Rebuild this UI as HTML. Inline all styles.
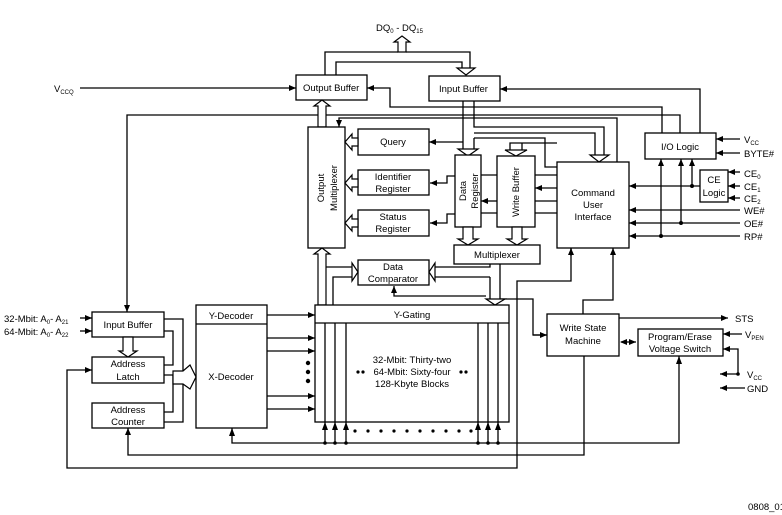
<!DOCTYPE html>
<html><head><meta charset="utf-8"><style>
html,body{margin:0;padding:0;background:#fff}
svg{display:block}
text{font-family:"Liberation Sans",sans-serif;font-size:9.5px;fill:#000}
.b{fill:#fff;stroke:#000;stroke-width:1.3}
.l{fill:none;stroke:#000;stroke-width:1.3}
.h{fill:#fff;stroke:#000;stroke-width:1.2}
</style></head><body>
<svg width="782" height="515" viewBox="0 0 782 515" xmlns="http://www.w3.org/2000/svg">
<defs>
<marker id="a" markerWidth="8" markerHeight="8" refX="7" refY="4" orient="auto" markerUnits="userSpaceOnUse"><path d="M0,1 L7,4 L0,7 z" fill="#000"/></marker>
<marker id="as" markerWidth="8" markerHeight="8" refX="1" refY="4" orient="auto" markerUnits="userSpaceOnUse"><path d="M7,1 L0,4 L7,7 z" fill="#000"/></marker>
</defs>

<text x="376" y="31">DQ<tspan font-size="6" dy="2">0</tspan><tspan dy="-2"> - DQ</tspan><tspan font-size="6" dy="2">15</tspan></text>
<path class="l" d="M325,75 V52 H398 M406,52 H470 V68"/>
<path class="l" d="M336,75 V62 H462 V68"/>
<polygon class="h" points="398,52 398,42 394,42 402,36 410,42 406,42 406,52"/>
<polygon class="h" points="462,68 457,68 466,75 475,68 470,68"/>

<text x="54" y="92">V<tspan font-size="6" dy="2">CCQ</tspan></text>
<line class="l" x1="80" y1="88" x2="296" y2="88" marker-end="url(#a)"/>

<rect class="b" x="296" y="75" width="71" height="25"/><text x="303" y="91">Output Buffer</text>
<rect class="b" x="429" y="76" width="71" height="25"/><text x="439" y="92">Input Buffer</text>

<path class="l" d="M700,133 V89 H500" marker-end="url(#a)"/>
<path class="l" d="M662,133 V107 H390 V88 H367" marker-end="url(#a)"/>
<path class="l" d="M680,133 V115 H127 V312" marker-end="url(#a)"/>
<path class="l" d="M617,162 V118 H339 V127" marker-end="url(#a)"/>

<polygon class="h" points="318,127 318,106 314,106 322,100 330,106 326,106 326,127"/>

<rect class="b" x="308" y="127" width="37" height="121"/>
<text transform="translate(324,188) rotate(-90)" text-anchor="middle">Output</text>
<text transform="translate(337,188) rotate(-90)" text-anchor="middle">Multiplexer</text>

<rect class="b" x="358" y="129" width="71" height="26"/><text x="393" y="145" text-anchor="middle">Query</text>
<rect class="b" x="358" y="170" width="71" height="25"/><text x="393" y="180" text-anchor="middle">Identifier</text><text x="393" y="192" text-anchor="middle">Register</text>
<rect class="b" x="358" y="210" width="71" height="26"/><text x="393" y="220" text-anchor="middle">Status</text><text x="393" y="232" text-anchor="middle">Register</text>
<polygon class="h" points="358,138 352,138 352,134 345,142 352,150 352,146 358,146"/>
<polygon class="h" points="358,179 352,179 352,175 345,183 352,191 352,187 358,187"/>
<polygon class="h" points="358,219 352,219 352,215 345,223 352,231 352,227 358,227"/>

<path class="l" d="M463,101 V149 M474,101 V127 H604 V155 M474,133 H595 V155 M474,138 V149"/>
<polygon class="h" points="463,149 458,149 468,156 478,149 474,149"/>
<polygon class="h" points="595,155 590,155 599,162 609,155 604,155"/>
<path class="l" d="M474,138 H545 V167 H557 M510,150 V143 H522 V150 M522,143 H557"/>
<polygon class="h" points="510,150 505,150 516,156 527,150 522,150"/>
<line class="l" x1="463" y1="142" x2="429" y2="142" marker-end="url(#a)"/>

<rect class="b" x="455" y="155" width="26" height="72"/>
<text transform="translate(466,191) rotate(-90)" text-anchor="middle">Data</text>
<text transform="translate(478,191) rotate(-90)" text-anchor="middle">Register</text>
<rect class="b" x="497" y="156" width="38" height="71"/>
<text transform="translate(519,192) rotate(-90)" text-anchor="middle">Write Buffer</text>
<path class="l" d="M455,176 H447 V183 H430" marker-end="url(#a)"/>
<path class="l" d="M455,214 H447 V223 H430" marker-end="url(#a)"/>
<path class="l" d="M481,175 H497 M481,213 H497"/>
<line class="l" x1="497" y1="201" x2="481" y2="201" marker-end="url(#a)"/>
<path class="l" d="M535,175 H557 M535,201 H557 M535,213 H557"/>
<line class="l" x1="557" y1="188" x2="535" y2="188" marker-end="url(#a)"/>

<polygon class="h" points="463,227 463,239 458,239 468,245 478,239 473,239 473,227"/>
<polygon class="h" points="512,227 512,239 507,239 517,245 527,239 522,239 522,227"/>
<rect class="b" x="454" y="245" width="86" height="19"/><text x="497" y="258" text-anchor="middle">Multiplexer</text>

<rect class="b" x="557" y="162" width="72" height="86"/>
<text x="593" y="196" text-anchor="middle">Command</text><text x="593" y="208" text-anchor="middle">User</text><text x="593" y="220" text-anchor="middle">Interface</text>

<rect class="b" x="645" y="133" width="71" height="26"/><text x="680" y="150" text-anchor="middle">I/O Logic</text>
<rect class="b" x="700" y="170" width="28" height="32"/><text x="714" y="183" text-anchor="middle">CE</text><text x="714" y="196" text-anchor="middle">Logic</text>
<line class="l" x1="740" y1="139" x2="716" y2="139" marker-end="url(#a)"/>
<line class="l" x1="740" y1="153" x2="716" y2="153" marker-end="url(#a)"/>
<text x="744" y="143">V<tspan font-size="6" dy="2">CC</tspan></text>
<text x="744" y="157">BYTE#</text>
<line class="l" x1="740" y1="172" x2="728" y2="172" marker-end="url(#a)"/>
<line class="l" x1="740" y1="186" x2="728" y2="186" marker-end="url(#a)"/>
<line class="l" x1="740" y1="198" x2="728" y2="198" marker-end="url(#a)"/>
<text x="744" y="177">CE<tspan font-size="6" dy="2">0</tspan></text>
<text x="744" y="190">CE<tspan font-size="6" dy="2">1</tspan></text>
<text x="744" y="202">CE<tspan font-size="6" dy="2">2</tspan></text>
<line class="l" x1="700" y1="186" x2="629" y2="186" marker-end="url(#a)"/>
<line class="l" x1="740" y1="210" x2="629" y2="210" marker-end="url(#a)"/>
<line class="l" x1="740" y1="223" x2="629" y2="223" marker-end="url(#a)"/>
<line class="l" x1="740" y1="236" x2="629" y2="236" marker-end="url(#a)"/>
<text x="744" y="214">WE#</text><text x="744" y="227">OE#</text><text x="744" y="240">RP#</text>
<line class="l" x1="661" y1="236" x2="661" y2="159" marker-end="url(#a)"/>
<line class="l" x1="681" y1="223" x2="681" y2="159" marker-end="url(#a)"/>
<line class="l" x1="692" y1="186" x2="692" y2="159" marker-end="url(#a)"/>
<circle cx="661" cy="236" r="2"/><circle cx="681" cy="223" r="2"/><circle cx="692" cy="186" r="2"/>

<rect class="b" x="358" y="260" width="71" height="25"/><text x="393" y="270" text-anchor="middle">Data</text><text x="393" y="282" text-anchor="middle">Comparator</text>
<polygon class="h" points="318,305 318,254 314,254 322,248 330,254 326,254 326,305"/>
<path class="l" d="M326,267 H352 M333,305 V277 H352"/>
<polygon class="h" points="352,263 358,272 352,281"/>
<path class="l" d="M490,264 V267 H435 M490,277 H435"/>
<polygon class="h" points="435,263 429,272 435,281"/>
<path class="l" d="M490,277 V299 M500,264 V299 H533 V335 H547" />
<polygon class="h" points="486,299 495,305 505,299"/>
<path class="l" d="M486,296 H394 V286" marker-end="url(#a)"/>

<rect class="b" x="315" y="305" width="194" height="117"/>
<line class="l" x1="315" y1="323" x2="509" y2="323"/>
<text x="412" y="318" text-anchor="middle">Y-Gating</text>
<text x="412" y="363" text-anchor="middle">32-Mbit: Thirty-two</text>
<text x="412" y="375" text-anchor="middle">64-Mbit: Sixty-four</text>
<text x="412" y="387" text-anchor="middle">128-Kbyte Blocks</text>
<circle cx="358" cy="372" r="1.6"/><circle cx="363" cy="372" r="1.6"/>
<circle cx="461" cy="372" r="1.6"/><circle cx="466" cy="372" r="1.6"/>
<path class="l" d="M325,323 V443 M335,323 V443 M346,323 V443 M478,323 V443 M488,323 V443 M498,323 V443"/>
<path class="l" d="M232,428 V443 H679 V356"/>
<g fill="#000">
<path d="M322,430 L325,422 L328,430z M332,430 L335,422 L338,430z M343,430 L346,422 L349,430z M475,430 L478,422 L481,430z M485,430 L488,422 L491,430z M495,430 L498,422 L501,430z M229,436 L232,428 L235,436z M676,364 L679,356 L682,364z"/>
<circle cx="325" cy="443" r="1.8"/><circle cx="335" cy="443" r="1.8"/><circle cx="346" cy="443" r="1.8"/>
<circle cx="478" cy="443" r="1.8"/><circle cx="488" cy="443" r="1.8"/><circle cx="498" cy="443" r="1.8"/>
<circle cx="355" cy="431" r="1.6"/><circle cx="368" cy="431" r="1.6"/><circle cx="381" cy="431" r="1.6"/><circle cx="394" cy="431" r="1.6"/><circle cx="407" cy="431" r="1.6"/><circle cx="420" cy="431" r="1.6"/><circle cx="433" cy="431" r="1.6"/><circle cx="446" cy="431" r="1.6"/><circle cx="459" cy="431" r="1.6"/><circle cx="471" cy="431" r="1.6"/>
<circle cx="308" cy="363" r="2.2"/><circle cx="308" cy="372" r="2.2"/><circle cx="308" cy="381" r="2.2"/>
</g>

<rect class="b" x="196" y="305" width="71" height="123"/>
<line class="l" x1="196" y1="324" x2="267" y2="324"/>
<text x="231" y="319" text-anchor="middle">Y-Decoder</text>
<text x="231" y="380" text-anchor="middle">X-Decoder</text>
<line class="l" x1="267" y1="315" x2="315" y2="315" marker-end="url(#a)"/>
<line class="l" x1="267" y1="338" x2="315" y2="338" marker-end="url(#a)"/>
<line class="l" x1="267" y1="351" x2="315" y2="351" marker-end="url(#a)"/>
<line class="l" x1="267" y1="396" x2="315" y2="396" marker-end="url(#a)"/>
<line class="l" x1="267" y1="409" x2="315" y2="409" marker-end="url(#a)"/>

<text x="4" y="322">32-Mbit:  A<tspan font-size="6" dy="2">0</tspan><tspan dy="-2">- A</tspan><tspan font-size="6" dy="2">21</tspan></text>
<text x="4" y="335">64-Mbit:  A<tspan font-size="6" dy="2">0</tspan><tspan dy="-2">- A</tspan><tspan font-size="6" dy="2">22</tspan></text>
<line class="l" x1="80" y1="318" x2="92" y2="318" marker-end="url(#a)"/>
<line class="l" x1="80" y1="331" x2="92" y2="331" marker-end="url(#a)"/>
<rect class="b" x="92" y="312" width="72" height="25"/><text x="128" y="328" text-anchor="middle">Input Buffer</text>
<polygon class="h" points="123,337 123,351 119,351 128,357 137,351 133,351 133,337"/>
<rect class="b" x="92" y="357" width="72" height="26"/><text x="128" y="367" text-anchor="middle">Address</text><text x="128" y="380" text-anchor="middle">Latch</text>
<rect class="b" x="92" y="403" width="72" height="25"/><text x="128" y="413" text-anchor="middle">Address</text><text x="128" y="425" text-anchor="middle">Counter</text>
<path class="l" d="M164,319 H183 V371 M183,384 V422 H164 M164,331 H173 V365 H164 M164,375 H173 V412 H164"/>
<polygon class="h" points="173,371 183,371 190,365 196,377 190,389 183,384 173,384"/>
<path class="l" d="M584,356 V455 H128 V428" marker-end="url(#a)"/>
<path class="l" d="M571,248 V281 H517 V468 H67 V370 H92" marker-end="url(#a)"/>
<path class="l" d="M571,256 V248" marker-end="url(#a)"/>

<rect class="b" x="547" y="314" width="72" height="42"/><text x="583" y="331" text-anchor="middle">Write State</text><text x="583" y="344" text-anchor="middle">Machine</text>
<path class="l" d="M583,314 V300 H613 V248" marker-end="url(#a)"/>
<line class="l" x1="533" y1="335" x2="547" y2="335" marker-end="url(#a)"/>
<line class="l" x1="619" y1="318" x2="728" y2="318" marker-end="url(#a)"/>
<text x="735" y="322">STS</text>
<line class="l" x1="621" y1="342" x2="636" y2="342" marker-end="url(#a)" marker-start="url(#as)"/>
<rect class="b" x="638" y="329" width="85" height="27"/><text x="680" y="340" text-anchor="middle">Program/Erase</text><text x="680" y="352" text-anchor="middle">Voltage Switch</text>
<line class="l" x1="742" y1="334" x2="723" y2="334" marker-end="url(#a)"/>
<text x="745" y="338">V<tspan font-size="6" dy="2">PEN</tspan></text>
<path class="l" d="M738,374 V349 H723" marker-end="url(#a)"/>
<line class="l" x1="738" y1="374" x2="720" y2="374" marker-end="url(#a)"/>
<circle cx="738" cy="374" r="1.8"/>
<text x="747" y="378">V<tspan font-size="6" dy="2">CC</tspan></text>
<line class="l" x1="745" y1="388" x2="720" y2="388" marker-end="url(#a)"/>
<text x="747" y="392">GND</text>
<text x="748" y="510" font-size="6.5">0808_01</text>
</svg>
</body></html>
